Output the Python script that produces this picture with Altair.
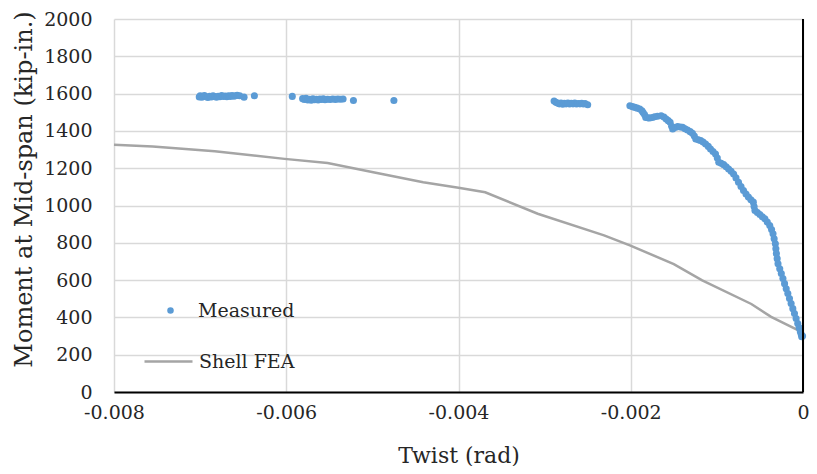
import altair as alt
import pandas as pd

# ---- Measured data (twist in rad, moment in kip-in.) ----
meas_twist = [
    -0.00701, -0.00700, -0.00698, -0.00697, -0.00695, -0.00693, -0.00691, -0.00689, -0.00687, -0.00685,
    -0.00683, -0.00681, -0.00679, -0.00677, -0.00675, -0.00673, -0.00671, -0.00669, -0.00667, -0.00665,
    -0.00663, -0.00661, -0.00659, -0.00657, -0.00654, -0.00649, -0.00637,
    -0.00593, -0.00581, -0.00579, -0.00577, -0.00575, -0.00573, -0.00571, -0.00569, -0.00567, -0.00565,
    -0.00563, -0.00561, -0.00559, -0.00557, -0.00555, -0.00552, -0.00549, -0.00546, -0.00543, -0.00540,
    -0.00537, -0.00534, -0.00522, -0.00475,
    -0.00289, -0.00287, -0.00285, -0.00283, -0.00281, -0.00279, -0.00277, -0.00275, -0.00273, -0.00271,
    -0.00269, -0.00267, -0.00265, -0.00263, -0.00261, -0.00259, -0.00257, -0.00255, -0.00253, -0.00250,
    -0.002010, -0.001980, -0.001952, -0.001925, -0.001895, -0.001870, -0.001857, -0.001840, -0.001826, -0.001800,
    -0.001780, -0.001750, -0.001723, -0.001690, -0.001647, -0.001615, -0.001589, -0.001565, -0.001543, -0.001525,
    -0.001513, -0.001485, -0.001456, -0.001425, -0.001398, -0.001370, -0.001341, -0.001310, -0.001284, -0.001262,
    -0.001245, -0.001215, -0.001188, -0.001160, -0.001131, -0.001100, -0.001074, -0.001045, -0.001016, -0.000995,
    -0.000978, -0.000950, -0.000921, -0.000892, -0.000864, -0.000835, -0.000806, -0.000778, -0.000749, -0.000720,
    -0.000691, -0.000662, -0.000634, -0.000605, -0.000577, -0.000568, -0.000558, -0.000530, -0.000501, -0.000472,
    -0.000443, -0.000415, -0.000386, -0.000365, -0.000348, -0.000335, -0.000321, -0.000315, -0.000309, -0.000300,
    -0.000290, -0.000270, -0.000252, -0.000233, -0.000214, -0.000195, -0.000176, -0.000157, -0.000138, -0.000118,
    -0.000099, -0.000080, -0.000061, -0.000045, -0.000031, -0.000020, -0.000015, -0.000005,
]
meas_moment = [
    1582, 1588, 1580, 1585, 1590, 1583, 1579, 1586, 1582, 1588,
    1584, 1580, 1586, 1583, 1589, 1584, 1587, 1583, 1588, 1585,
    1590, 1586, 1588, 1591, 1588, 1581, 1588,
    1585, 1573, 1568, 1575, 1566, 1570, 1565, 1572, 1567, 1570,
    1566, 1571, 1568, 1572, 1567, 1570, 1568, 1571, 1569, 1571,
    1570, 1571, 1563, 1563,
    1560, 1553, 1549, 1545, 1550, 1543, 1548, 1545, 1549, 1544,
    1548, 1545, 1549, 1544, 1547, 1545, 1548, 1544, 1547, 1540,
    1535, 1530, 1526, 1522, 1517, 1508, 1499, 1488, 1472, 1470,
    1469, 1472, 1476, 1479, 1481, 1474, 1464, 1455, 1446, 1425,
    1410, 1418, 1423, 1421, 1419, 1412, 1405, 1396, 1387, 1372,
    1357, 1352, 1348, 1340, 1330, 1317, 1303, 1290, 1276, 1255,
    1232, 1226, 1219, 1208, 1196, 1183, 1169, 1148, 1125, 1102,
    1080, 1062, 1045, 1031, 1018, 995, 973, 962, 952, 940,
    929, 911, 893, 871, 849, 822, 795, 768, 742, 715,
    688, 661, 635, 608, 581, 554, 528, 501, 474, 447,
    421, 394, 367, 345, 323, 308, 296, 300,
]

# ---- Shell FEA curve ----
fea_twist = [-0.00800, -0.00755, -0.00683, -0.00602, -0.00552, -0.00499, -0.00441, -0.00400,
             -0.00369, -0.00308, -0.00231, -0.00201, -0.00150, -0.00117, -0.00060, -0.00037, 0.0]
fea_moment = [1326, 1317, 1291, 1250, 1228, 1178, 1125, 1095,
              1071, 956, 840, 786, 686, 599, 472, 403, 318]

x_ticks = [-0.008, -0.006, -0.004, -0.002, 0.0]
y_ticks = [0, 200, 400, 600, 800, 1000, 1200, 1400, 1600, 1800, 2000]

meas = pd.DataFrame({"twist": meas_twist, "moment": meas_moment, "series": "Measured"})
fea = pd.DataFrame({"twist": fea_twist, "moment": fea_moment, "series": "Shell FEA"})
zero_line = pd.DataFrame({"twist": [0.0]})

FONT = "DejaVu Serif"
TXT = "#262626"

x_enc = alt.X(
    "twist:Q",
    scale=alt.Scale(domain=[-0.008, 0], nice=False, zero=False),
    axis=alt.Axis(
        values=x_ticks,
        labelExpr="datum.value == 0 ? '0' : '-' + format(-datum.value, '.3f')",
        title="Twist (rad)",
        ticks=False,
        labelFlush=False,
        labelOverlap=False,
        labelPadding=11,
        labelFont=FONT, labelFontSize=19, labelColor=TXT,
        titleFont=FONT, titleFontSize=22, titleFontWeight="normal", titleColor=TXT,
        titleBaseline="middle", titleY=63,
        domainColor="#000000", domainWidth=2,
        gridColor="#D9D9D9", gridWidth=1.5,
    ),
)
y_enc = alt.Y(
    "moment:Q",
    scale=alt.Scale(domain=[0, 2000], nice=False),
    axis=alt.Axis(
        values=y_ticks,
        format="d",
        title="Moment at Mid-span (kip-in.)",
        ticks=False,
        domain=False,
        labelFlush=False,
        labelOverlap=False,
        labelPadding=22,
        labelFont=FONT, labelFontSize=19, labelColor=TXT,
        titleFont=FONT, titleFontSize=24, titleFontWeight="normal", titleColor=TXT,
        titleAngle=-90, titleBaseline="middle", titleAlign="center",
        titleX=-90, titleY=170,
        gridColor="#D9D9D9", gridWidth=1.5,
    ),
)

line = alt.Chart(fea).mark_line(strokeWidth=2.5).encode(
    x=x_enc,
    y=y_enc,
    stroke=alt.Stroke(
        "series:N",
        scale=alt.Scale(domain=["Shell FEA"], range=["#A5A5A5"]),
        legend=alt.Legend(
            title=None, orient="none", legendX=29, legendY=317, padding=0,
            symbolType="stroke", symbolSize=2304, symbolStrokeWidth=2.5,
            labelOffset=5, labelFont=FONT, labelFontSize=19, labelColor=TXT,
        ),
    ),
)

points = alt.Chart(meas).mark_circle(size=50, opacity=1).encode(
    x=x_enc,
    y=y_enc,
    color=alt.Color(
        "series:N",
        scale=alt.Scale(domain=["Measured"], range=["#5B9BD5"]),
        legend=alt.Legend(
            title=None, orient="none", legendX=47, legendY=282, padding=0,
            symbolType="circle", symbolSize=42, symbolStrokeWidth=0,
            labelOffset=18, labelFont=FONT, labelFontSize=19, labelColor=TXT,
        ),
    ),
)

yaxis_line = alt.Chart(zero_line).mark_rule(color="#000000", strokeWidth=2).encode(
    x=x_enc
)

chart = alt.layer(line, points, yaxis_line).properties(
    width=689,
    height=373,
    background="white",
    autosize=alt.AutoSizeParams(type="none"),
    padding={"left": 106, "top": 11, "right": 6, "bottom": 74},
).configure_view(stroke=None)

chart.save("out.html", embed_options={"renderer": "svg", "actions": False})
